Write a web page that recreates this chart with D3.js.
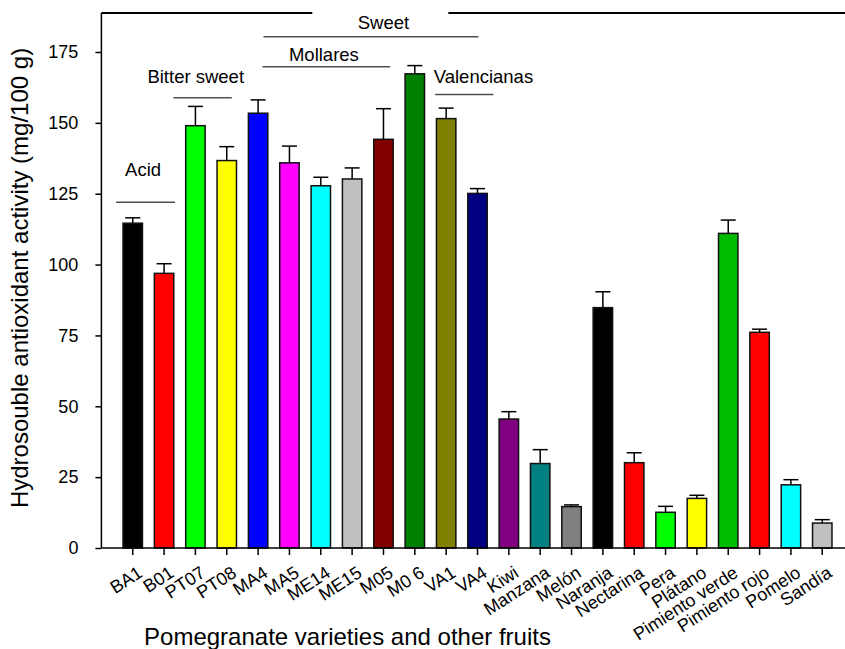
<!DOCTYPE html>
<html>
<head>
<meta charset="utf-8">
<script src="https://cdn.jsdelivr.net/npm/d3@7"></script>
<style>
  html, body { margin: 0; padding: 0; background: #fff; }
  svg { display: block; }
  text { font-family: "Liberation Sans", Arial, sans-serif; fill: #000; }
</style>
</head>
<body>
<svg id="chart" width="845" height="649"></svg>
<script>
const categories = ["BA1","B01","PT07","PT08","MA4","MA5","ME14","ME15","M05","M0 6","VA1","VA4",
  "Kiwi","Manzana","Melón","Naranja","Nectarina","Pera","Plátano","Pimiento verde","Pimiento rojo","Pomelo","Sandía"];
const values = [114.6, 96.9, 149.0, 136.7, 153.4, 135.9, 127.8, 130.2, 144.2, 167.3, 151.5, 125.1,
  45.5, 29.8, 14.6, 84.8, 30.1, 12.6, 17.5, 111.0, 76.1, 22.3, 8.8];
const errors = [1.9, 3.4, 6.8, 4.9, 4.7, 5.9, 3.0, 3.9, 10.8, 2.9, 3.7, 1.7,
  2.6, 4.9, 0.6, 5.6, 3.5, 2.1, 1.1, 4.7, 1.1, 1.8, 1.2];
const colors = ["#000000","#ff0000","#00ff00","#ffff00","#0000ff","#ff00ff","#00ffff","#c0c0c0","#800000","#008000","#808000","#000080",
  "#800080","#008080","#808080","#000000","#ff0000","#00ff00","#ffff00","#00bb00","#ff0000","#00ffff","#c0c0c0"];
const yTicks = [0, 25, 50, 75, 100, 125, 150, 175];

// group annotations: positions in category-index units and data units
const groupLabels = ["Acid", "Bitter sweet", "Mollares", "Sweet", "Valencianas"];
const groupLineFrom = [-0.53, 1.30, 4.14, 4.17, 9.65];
const groupLineTo   = [1.35, 3.16, 8.21, 11.03, 11.51];
const groupLineY    = [122.0, 158.9, 169.8, 180.4, 160.0];
const groupTextX    = [0.33, 2.01, 6.10, 8.00, 11.19];
const groupTextY    = [131.2, 164.2, 171.9, 183.0, 163.9];

const xTitle = "Pomegranate varieties and other fruits";
const yTitle = "Hydrosouble antioxidant activity (mg/100 g)";

const svg = d3.select("#chart");
const left = 101.4, right = 853.6, bottom = 548, topFrame = 13;

const x = d3.scaleBand().domain(categories).range([left, right]).paddingInner(0.38).paddingOuter(0.69);
const y = d3.scaleLinear().domain([0, 175]).range([bottom, 52]);
// fractional-index scale for annotations
const xi = d3.scaleLinear().domain([0, categories.length - 1])
  .range([x(categories[0]) + x.bandwidth() / 2, x(categories[categories.length - 1]) + x.bandwidth() / 2]);

// bars
svg.append("g").selectAll("rect").data(categories).join("rect")
  .attr("x", d => x(d))
  .attr("y", (d, i) => y(values[i]))
  .attr("width", x.bandwidth())
  .attr("height", (d, i) => y(0) - y(values[i]))
  .attr("fill", (d, i) => colors[i])
  .attr("stroke", "#111")
  .attr("stroke-width", 1.5);

// error bars (upper only)
const eb = svg.append("g").attr("stroke", "#000").attr("stroke-width", 1.5);
categories.forEach((c, i) => {
  const cx = x(c) + x.bandwidth() / 2;
  eb.append("line").attr("x1", cx).attr("x2", cx).attr("y1", y(values[i])).attr("y2", y(values[i] + errors[i]));
  eb.append("line").attr("x1", cx - 7.5).attr("x2", cx + 7.5).attr("y1", y(values[i] + errors[i])).attr("y2", y(values[i] + errors[i]));
});

// y axis
const yAxis = svg.append("g").attr("transform", `translate(${left},0)`)
  .call(d3.axisLeft(y).tickValues(yTicks).tickSize(6).tickPadding(17).tickSizeOuter(0));
yAxis.select(".domain").remove();
yAxis.selectAll(".tick line").attr("stroke", "#000").attr("stroke-width", 1.5);
yAxis.selectAll(".tick text").style("font-size", "18px").style("font-family", "'Liberation Sans', Arial, sans-serif");
svg.append("line").attr("x1", left).attr("x2", left).attr("y1", topFrame).attr("y2", bottom)
  .attr("stroke", "#000").attr("stroke-width", 1.5);

// x axis
const xAxis = svg.append("g").attr("transform", `translate(0,${bottom})`)
  .call(d3.axisBottom(x).tickSize(7).tickSizeOuter(0));
xAxis.select(".domain").remove();
xAxis.selectAll(".tick line").attr("stroke", "#000").attr("stroke-width", 1.5);
xAxis.selectAll(".tick text").remove();
svg.append("line").attr("x1", left).attr("x2", right).attr("y1", bottom).attr("y2", bottom)
  .attr("stroke", "#000").attr("stroke-width", 1.5);

svg.append("g").selectAll("text").data(categories).join("text")
  .attr("transform", d => `translate(${x(d) + x.bandwidth() / 2 + 4},565) rotate(-33)`)
  .attr("text-anchor", "end")
  .attr("dy", "0.71em")
  .style("font-size", "18px")
  .text(d => d);

// top frame with gap
svg.append("line").attr("x1", left).attr("x2", xi(5.73)).attr("y1", topFrame).attr("y2", topFrame)
  .attr("stroke", "#000").attr("stroke-width", 1.8);
svg.append("line").attr("x1", xi(10.07)).attr("x2", right).attr("y1", topFrame).attr("y2", topFrame)
  .attr("stroke", "#000").attr("stroke-width", 1.8);

// group annotations
const ann = svg.append("g");
groupLabels.forEach((g, i) => {
  ann.append("line")
    .attr("x1", xi(groupLineFrom[i])).attr("x2", xi(groupLineTo[i]))
    .attr("y1", y(groupLineY[i])).attr("y2", y(groupLineY[i]))
    .attr("stroke", "#505050").attr("stroke-width", 1.5);
  ann.append("text")
    .attr("x", xi(groupTextX[i])).attr("y", y(groupTextY[i]))
    .attr("text-anchor", "middle")
    .style("font-size", "18.5px")
    .text(g);
});

// axis titles
svg.append("text").attr("x", 347.5).attr("y", 645).attr("text-anchor", "middle")
  .style("font-size", "24px").text(xTitle);
svg.append("text").attr("transform", "translate(28,278) rotate(-90)").attr("text-anchor", "middle")
  .style("font-size", "24px").text(yTitle);
</script>
</body>
</html>
